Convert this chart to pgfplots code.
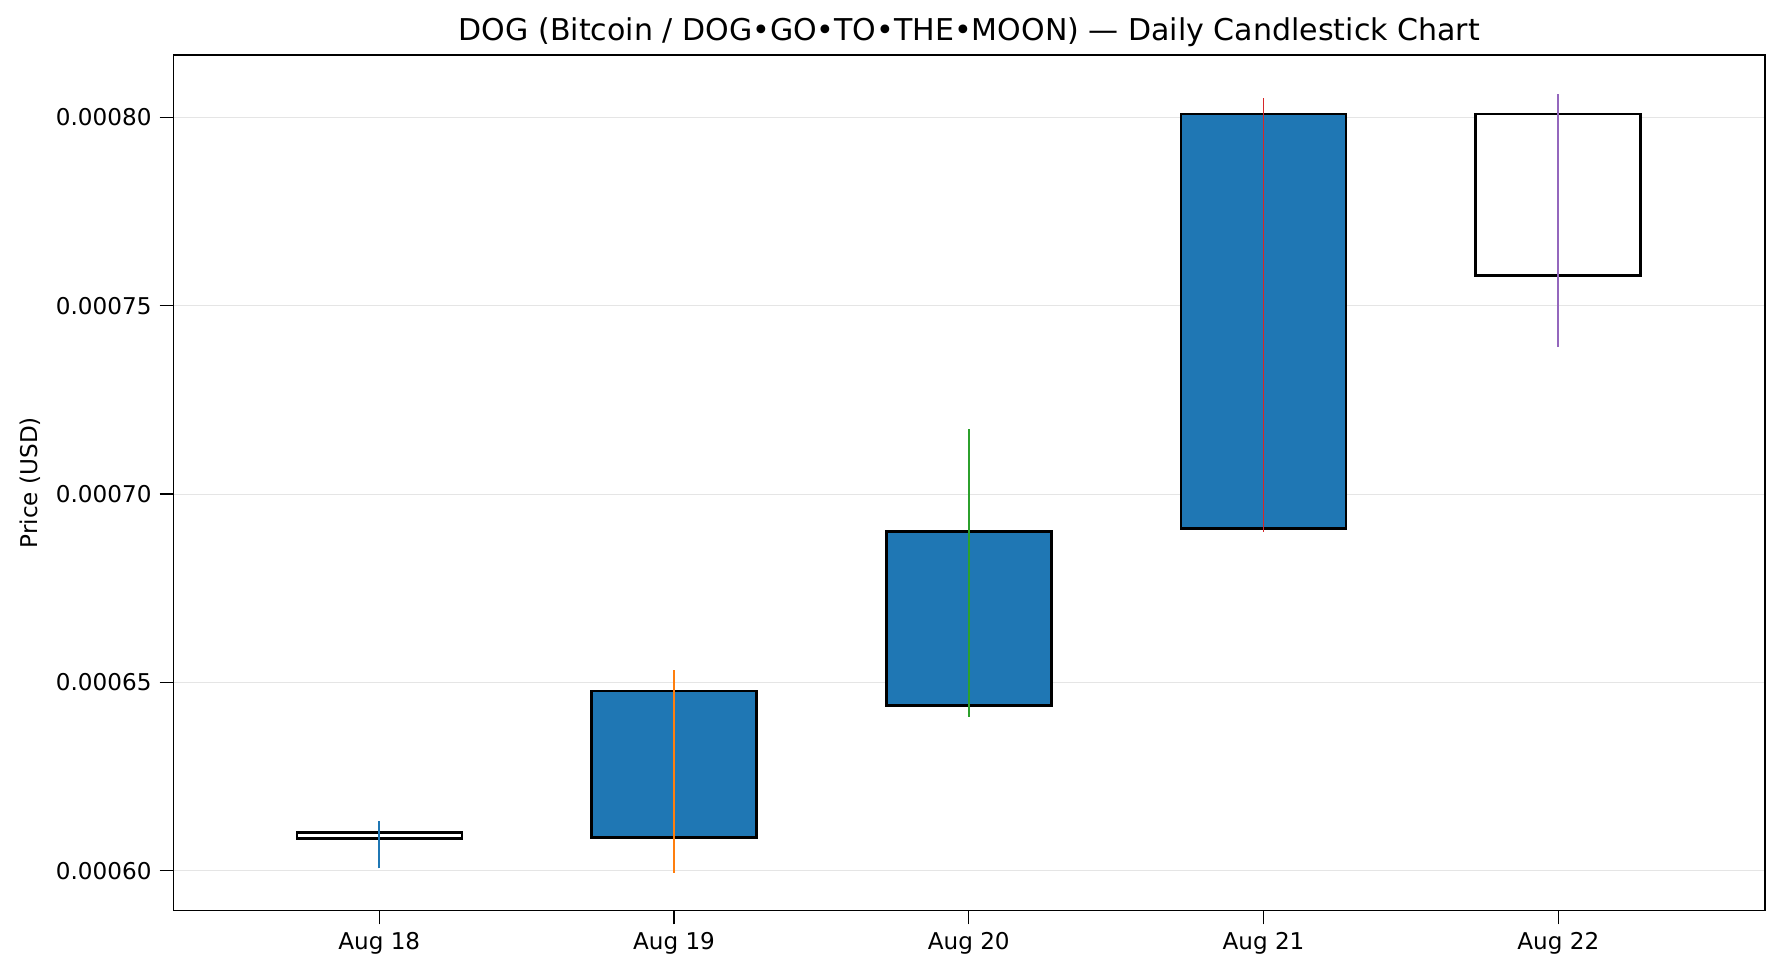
\documentclass[border=0pt]{standalone}
\usepackage{pgfplots}
\pgfplotsset{compat=1.18}
\usepackage{fontspec}
\setmainfont{DejaVu Sans}
\definecolor{mblue}{HTML}{1F77B4}
\definecolor{morange}{HTML}{FF7F0E}
\definecolor{mgreen}{HTML}{2CA02C}
\definecolor{mred}{HTML}{D62728}
\definecolor{mpurple}{HTML}{9467BD}
\begin{document}
\begin{tikzpicture}
\begin{axis}[
  scale only axis, width=24.22cm, height=13.02cm,
  xmin=-0.698, xmax=4.702, ymin=0.0005894, ymax=0.0008166,
  xtick={0,1,2,3,4}, xticklabels={Aug 18,Aug 19,Aug 20,Aug 21,Aug 22},
  ytick={0.0006,0.00065,0.0007,0.00075,0.0008},
  yticklabel={\pgfmathprintnumber[fixed,precision=5,zerofill]{\tick}},
  scaled y ticks=false,
  /pgf/number format/assume math mode=true,
  ymajorgrids, grid style={gray!20},
  xtick pos=bottom, ytick pos=left,
  tick align=outside, major tick length=6pt,
  xtick style={black,semithick}, ytick style={black,semithick},
  ylabel={Price (USD)},
  title={DOG (Bitcoin / DOG•GO•TO•THE•MOON) — Daily Candlestick Chart},
  title style={font=\fontsize{13}{15}\selectfont, yshift=-6pt},
  tick label style={font=\normalsize},
  axis line style={thick},
]
\addplot[draw=black, line width=1.0pt, fill=white] coordinates {(-0.28,0.0006101) (0.28,0.0006101) (0.28,0.0006085) (-0.28,0.0006085)} -- cycle;
\addplot[draw=black, line width=1.2pt, fill=mblue] coordinates {(0.72,0.0006477) (1.28,0.0006477) (1.28,0.0006088) (0.72,0.0006088)} -- cycle;
\addplot[draw=black, line width=1.2pt, fill=mblue] coordinates {(1.72,0.0006900) (2.28,0.0006900) (2.28,0.0006438) (1.72,0.0006438)} -- cycle;
\addplot[draw=black, line width=1.2pt, fill=mblue] coordinates {(2.72,0.0008009) (3.28,0.0008009) (3.28,0.0006909) (2.72,0.0006909)} -- cycle;
\addplot[draw=black, line width=1.2pt, fill=white] coordinates {(3.72,0.0008009) (4.28,0.0008009) (4.28,0.0007580) (3.72,0.0007580)} -- cycle;
\addplot[mblue, thick] coordinates {(0,0.0006006) (0,0.0006133)};
\addplot[morange, thick] coordinates {(1,0.0005994) (1,0.0006532)};
\addplot[mgreen, thick] coordinates {(2,0.0006408) (2,0.0007172)};
\addplot[mred, thick] coordinates {(3,0.000690) (3,0.0008051)};
\addplot[mpurple, thick] coordinates {(4,0.000739) (4,0.0008063)};
\end{axis}
\pgfresetboundingbox
\path[use as bounding box] ([xshift=-2.64cm,yshift=-0.89cm]current axis.south west) rectangle ([xshift=0.24cm,yshift=0.835cm]current axis.north east);
\end{tikzpicture}
\end{document}
